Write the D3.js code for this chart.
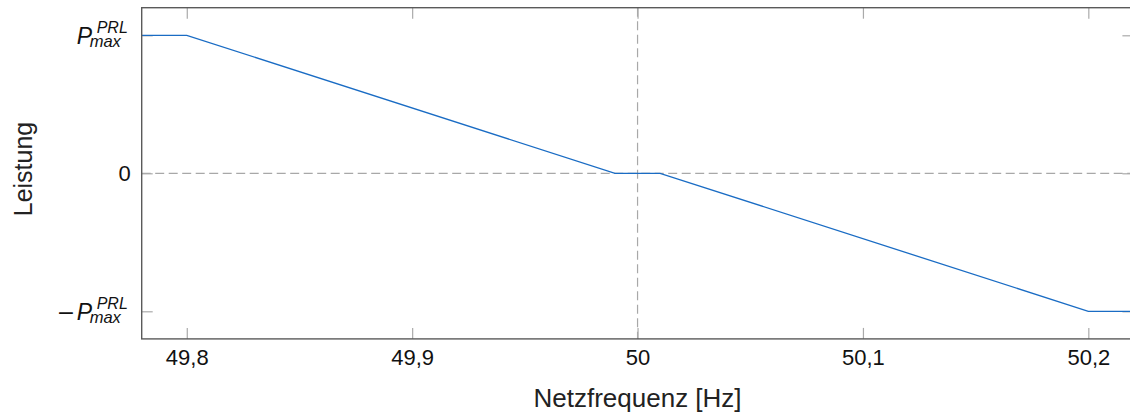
<!DOCTYPE html>
<html lang="de">
<head>
  <meta charset="UTF-8">
  <title>Primärregelleistung</title>
  <style>
    body { margin: 0; background: #fff; }
    svg { display: block; font-family: "Liberation Sans", Arial, Helvetica, sans-serif; }
  </style>
</head>
<body>
  <svg id="chart" width="1130" height="414"></svg>

  <script src="https://d3js.org/d3.v7.min.js"></script>
  <script>
    // Kennlinie der Primärregelleistung (Frequenz in Hz, Leistung bezogen auf P_max)
    const frequency = [49.78, 49.8, 49.99, 50.01, 50.2, 50.22]
    const power = [1, 1, 0, 0, -1, -1]

    // Achsen
    const xTicks = [49.8, 49.9, 50, 50.1, 50.2]
    const yTicks = [-1, 0, 1]
    const xDomain = [49.78, 50.22]
    const yDomain = [-1.2, 1.2]

    const plot = { left: 141.7, right: 1133.4, top: 7.7, bottom: 338.9 }
    const tickLen = 11

    const svg = d3.select('#chart')

    const xscale = d3.scaleLinear().domain(xDomain).range([plot.left, plot.right])
    const yscale = d3.scaleLinear().domain(yDomain).range([plot.bottom, plot.top])

    const fmt = d => String(d).replace('.', ',')

    // Gitterlinien (gestrichelt)
    svg.append('line')
      .attr('x1', xscale(50)).attr('x2', xscale(50))
      .attr('y1', plot.top).attr('y2', plot.bottom)
      .attr('stroke', '#a8a8a8').attr('stroke-width', 1.2)
      .attr('stroke-dasharray', '9,4.5')
    svg.append('line')
      .attr('x1', plot.left).attr('x2', plot.right)
      .attr('y1', yscale(0)).attr('y2', yscale(0))
      .attr('stroke', '#a8a8a8').attr('stroke-width', 1.2)
      .attr('stroke-dasharray', '9,4.5')

    // Achsen mit nach innen gerichteten Ticks
    const styleAxis = g => {
      g.select('.domain').remove()
      g.selectAll('.tick line').attr('stroke', '#aaaaaa').attr('stroke-width', 1.2)
      g.selectAll('.tick text').attr('fill', '#111').style('font-size', '22px')
    }

    svg.append('g')
      .attr('transform', `translate(0, ${plot.bottom})`)
      .call(d3.axisBottom(xscale).tickValues(xTicks).tickFormat(fmt).tickSize(-tickLen).tickPadding(10))
      .call(styleAxis)

    svg.append('g')
      .attr('transform', `translate(0, ${plot.top})`)
      .call(d3.axisTop(xscale).tickValues(xTicks).tickFormat('').tickSize(-tickLen))
      .call(styleAxis)

    svg.append('g')
      .attr('transform', `translate(${plot.left}, 0)`)
      .call(d3.axisLeft(yscale).tickValues(yTicks).tickFormat(d => d === 0 ? '0' : '').tickSize(-tickLen).tickPadding(11))
      .call(styleAxis)

    svg.append('g')
      .attr('transform', `translate(${plot.right}, 0)`)
      .call(d3.axisRight(yscale).tickValues(yTicks).tickFormat('').tickSize(-tickLen))
      .call(styleAxis)

    // P_max^PRL Beschriftungen, als ein Text mit hoch- und tiefgestellten Teilen
    yTicks.filter(d => d !== 0).forEach(d => {
      const t = svg.append('text')
        .attr('transform', `translate(${plot.left}, ${yscale(d)})`)
        .attr('fill', '#111')
        .attr('x', -65).attr('y', 8.5)
        .style('font-style', 'italic')
      if (d < 0) {
        t.attr('x', -85)
        t.append('tspan')
          .style('font-family', '"DejaVu Sans", sans-serif')
          .style('font-style', 'normal')
          .style('font-size', '22px').text('\u2212')
        t.append('tspan').attr('x', -65).style('font-size', '23px').text('P')
      } else {
        t.append('tspan').style('font-size', '23px').text('P')
      }
      t.append('tspan').attr('x', -45).attr('dy', -11).style('font-size', '16px').text('PRL')
      t.append('tspan').attr('x', -52).attr('dy', 14).style('font-size', '16.5px').text('max')
    })

    // Kennlinie
    const line = d3.line()
      .x((d, i) => xscale(frequency[i]))
      .y(d => yscale(d))

    svg.append('path')
      .datum(power)
      .attr('d', line)
      .attr('fill', 'none')
      .attr('stroke', '#1a6cc4')
      .attr('stroke-width', 1.3)

    // Rahmen
    svg.append('rect')
      .attr('x', plot.left).attr('y', plot.top)
      .attr('width', plot.right - plot.left).attr('height', plot.bottom - plot.top)
      .attr('fill', 'none').attr('stroke', '#5a5a5a').attr('stroke-width', 1.4)

    // Achsentitel
    svg.append('text')
      .attr('x', (plot.left + plot.right) / 2).attr('y', 407)
      .attr('text-anchor', 'middle')
      .style('font-size', '26px').attr('fill', '#222')
      .text('Netzfrequenz [Hz]')

    svg.append('text')
      .attr('transform', `translate(32, 169) rotate(-90)`)
      .attr('text-anchor', 'middle')
      .style('font-size', '25px').attr('fill', '#222')
      .text('Leistung')
  </script>
</body>
</html>
